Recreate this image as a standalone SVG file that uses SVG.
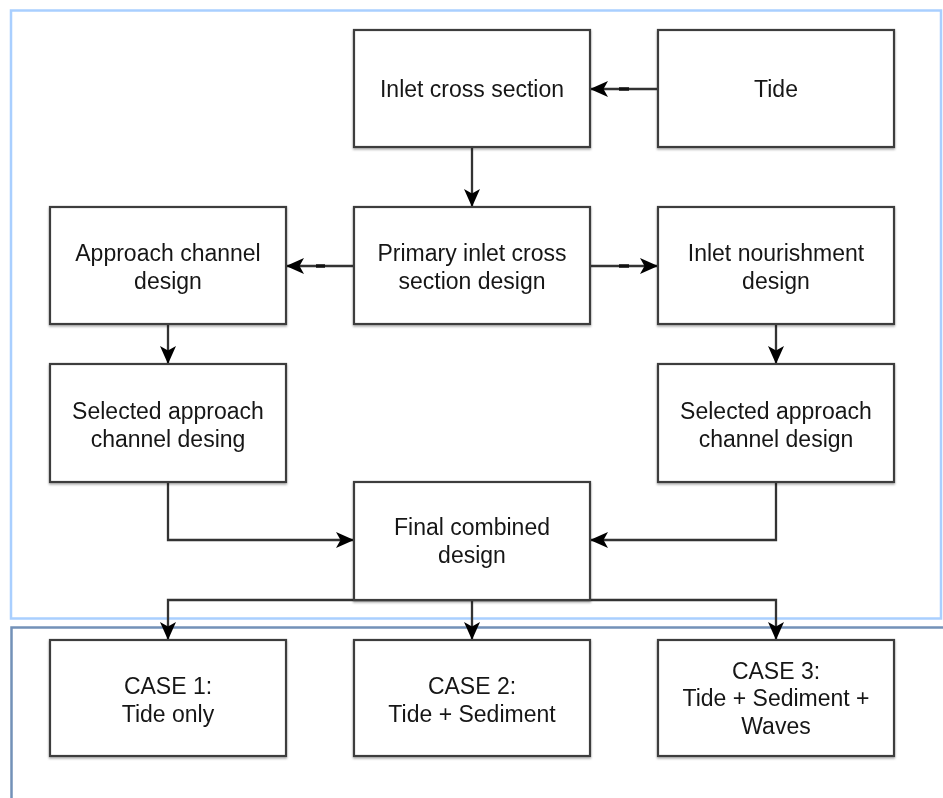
<svg xmlns="http://www.w3.org/2000/svg" width="943" height="798" viewBox="0 0 943 798">
  <style>
    .frame-top { fill: none; stroke: #a9cfff; stroke-width: 2.5; }
    .frame-bottom { fill: none; stroke: #7391b8; stroke-width: 2.5; }
    .box { fill: #ffffff; stroke: #3c3c3c; stroke-width: 2.2; }
    .lbl { font-family: "Liberation Sans", Arial, Helvetica, sans-serif; font-size: 23px; fill: #161616; text-anchor: middle; }
    .edge { fill: none; stroke: #333333; stroke-width: 2.3; }
    .tick { stroke: #111111; stroke-width: 3.5; }
  </style>
  <defs>
    <marker id="arrow" markerUnits="userSpaceOnUse" markerWidth="20" markerHeight="18" refX="17" refY="8" orient="auto">
      <path d="M0,0 L18,8 L0,16 L4.5,8 Z" fill="#000000"/>
    </marker>
    <filter id="shadow" x="-5%" y="-5%" width="110%" height="115%">
      <feDropShadow dx="0" dy="1.5" stdDeviation="0.8" flood-color="#000000" flood-opacity="0.35"/>
    </filter>
  </defs>

  <rect width="943" height="798" fill="#ffffff"/>

  <!-- outer frames -->
  <rect class="frame-top" x="11" y="10.5" width="930" height="608"/>
  <path class="frame-bottom" d="M943,627.5 H11.5 V798"/>

  <!-- connectors -->
  <g id="connectors">
    <line class="edge" x1="658" y1="89" x2="591" y2="89" marker-end="url(#arrow)"/>
    <line class="tick" x1="619" y1="89" x2="629" y2="89"/>
    <line class="edge" x1="472" y1="147" x2="472" y2="206" marker-end="url(#arrow)"/>
    <line class="edge" x1="354" y1="266" x2="287" y2="266" marker-end="url(#arrow)"/>
    <line class="tick" x1="316" y1="266" x2="325" y2="266"/>
    <line class="edge" x1="590" y1="266" x2="657" y2="266" marker-end="url(#arrow)"/>
    <line class="tick" x1="619" y1="266" x2="629" y2="266"/>
    <line class="edge" x1="168" y1="324" x2="168" y2="363" marker-end="url(#arrow)"/>
    <line class="edge" x1="776" y1="324" x2="776" y2="363" marker-end="url(#arrow)"/>
    <path class="edge" d="M168,482 V540 H353" marker-end="url(#arrow)"/>
    <path class="edge" d="M776,482 V540 H591" marker-end="url(#arrow)"/>
    <path class="edge" d="M472,600 H168 V639" marker-end="url(#arrow)"/>
    <line class="edge" x1="472" y1="600" x2="472" y2="639" marker-end="url(#arrow)"/>
    <path class="edge" d="M472,600 H776 V639" marker-end="url(#arrow)"/>
  </g>

  <g id="inlet-cross-section" filter="url(#shadow)">
    <rect class="box" x="354" y="30" width="236" height="117"/>
    <text class="lbl" x="472" y="97">Inlet cross section</text>
  </g>
  <g id="tide" filter="url(#shadow)">
    <rect class="box" x="658" y="30" width="236" height="117"/>
    <text class="lbl" x="776" y="97">Tide</text>
  </g>
  <g id="approach-channel-design" filter="url(#shadow)">
    <rect class="box" x="50" y="207" width="236" height="117"/>
    <text class="lbl" x="168" y="261">Approach channel</text>
    <text class="lbl" x="168" y="289">design</text>
  </g>
  <g id="primary-inlet-design" filter="url(#shadow)">
    <rect class="box" x="354" y="207" width="236" height="117"/>
    <text class="lbl" x="472" y="261">Primary inlet cross</text>
    <text class="lbl" x="472" y="289">section design</text>
  </g>
  <g id="inlet-nourishment-design" filter="url(#shadow)">
    <rect class="box" x="658" y="207" width="236" height="117"/>
    <text class="lbl" x="776" y="261">Inlet nourishment</text>
    <text class="lbl" x="776" y="289">design</text>
  </g>
  <g id="selected-approach-left" filter="url(#shadow)">
    <rect class="box" x="50" y="364" width="236" height="118"/>
    <text class="lbl" x="168" y="419">Selected approach</text>
    <text class="lbl" x="168" y="447">channel desing</text>
  </g>
  <g id="selected-approach-right" filter="url(#shadow)">
    <rect class="box" x="658" y="364" width="236" height="118"/>
    <text class="lbl" x="776" y="419">Selected approach</text>
    <text class="lbl" x="776" y="447">channel design</text>
  </g>
  <g id="final-combined-design" filter="url(#shadow)">
    <rect class="box" x="354" y="482" width="236" height="118"/>
    <text class="lbl" x="472" y="535">Final combined</text>
    <text class="lbl" x="472" y="563">design</text>
  </g>
  <g id="case-1" filter="url(#shadow)">
    <rect class="box" x="50" y="640" width="236" height="116"/>
    <text class="lbl" x="168" y="694">CASE 1:</text>
    <text class="lbl" x="168" y="722">Tide only</text>
  </g>
  <g id="case-2" filter="url(#shadow)">
    <rect class="box" x="354" y="640" width="236" height="116"/>
    <text class="lbl" x="472" y="694">CASE 2:</text>
    <text class="lbl" x="472" y="722">Tide + Sediment</text>
  </g>
  <g id="case-3" filter="url(#shadow)">
    <rect class="box" x="658" y="640" width="236" height="116"/>
    <text class="lbl" x="776" y="679">CASE 3:</text>
    <text class="lbl" x="776" y="706">Tide + Sediment +</text>
    <text class="lbl" x="776" y="734">Waves</text>
  </g>
</svg>
